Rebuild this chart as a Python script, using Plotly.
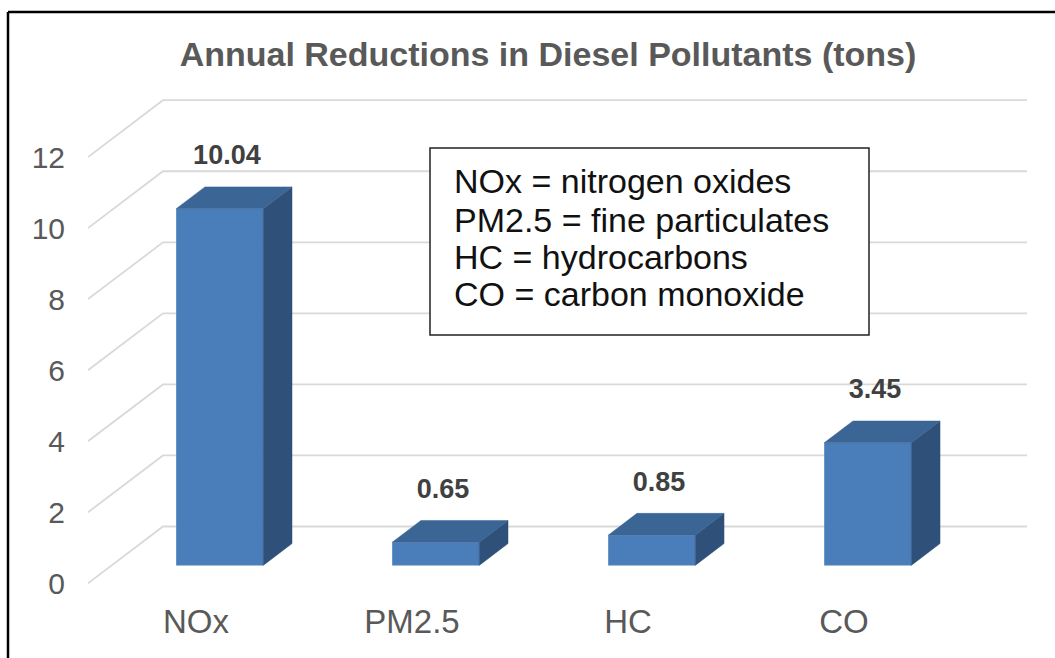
"""Excel-style 3D column chart: annual reductions in diesel pollutants."""

import plotly.graph_objects as go

# ---------------------------------------------------------------------------
# Data
# ---------------------------------------------------------------------------
CATEGORIES = ["NOx", "PM2.5", "HC", "CO"]
REDUCTIONS = [10.04, 0.65, 0.85, 3.45]
Y_TICKS = [0, 2, 4, 6, 8, 10, 12]
TITLE = "Annual Reductions in Diesel Pollutants (tons)"
LEGEND_LINES = [
    "NOx = nitrogen oxides",
    "PM2.5 = fine particulates",
    "HC = hydrocarbons",
    "CO = carbon monoxide",
]

# ---------------------------------------------------------------------------
# Styling / fake-3D geometry (in axis units)
# ---------------------------------------------------------------------------
FRONT = "#4A7EBB"
TOP = "#3A6595"
SIDE = "#2F5078"
GRID = "#d9d9d9"
TEXT_GREY = "#595959"
FONT = "Liberation Sans, Arial, sans-serif"

WALL_DX, WALL_DY = 0.347, 1.6          # floor depth projected on x / y
BAR_FRONT, BAR_BACK = 0.316, 0.70      # bar position within floor depth
BAR_WIDTH = 0.403
LABEL_DX, LABEL_DY = 0.143, 1.95

X_RANGE = [-0.5, len(CATEGORIES) - 0.5 + WALL_DX]
Y_RANGE = [-0.3, 14.0]

W, H = 1055, 658
M = dict(l=88, r=28, t=86, b=64)


def px_to_paper(px, py):
    """Convert page pixels to paper coordinates (for decoration only)."""
    pw = W - M["l"] - M["r"]
    ph = H - M["t"] - M["b"]
    return (px - M["l"]) / pw, (H - M["b"] - py) / ph


fig = go.Figure()

# front faces
front_x = [i + BAR_FRONT * WALL_DX for i in range(len(CATEGORIES))]
base = BAR_FRONT * WALL_DY
fig.add_trace(
    go.Bar(
        x=front_x,
        y=REDUCTIONS,
        base=base,
        width=BAR_WIDTH,
        marker=dict(color=FRONT, line=dict(width=0)),
        hoverinfo="skip",
    )
)

# side and top faces
ddx = (BAR_BACK - BAR_FRONT) * WALL_DX
ddy = (BAR_BACK - BAR_FRONT) * WALL_DY
side_x, side_y, top_x, top_y = [], [], [], []
for cx, v in zip(front_x, REDUCTIONS):
    xl, xr = cx - BAR_WIDTH / 2, cx + BAR_WIDTH / 2
    yt = base + v
    side_x += [xr, xr + ddx, xr + ddx, xr, xr, None]
    side_y += [base, base + ddy, yt + ddy, yt, base, None]
    top_x += [xl, xr, xr + ddx, xl + ddx, xl, None]
    top_y += [yt, yt, yt + ddy, yt + ddy, yt, None]

for xs, ys, col in [(side_x, side_y, SIDE), (top_x, top_y, TOP)]:
    fig.add_trace(
        go.Scatter(
            x=xs, y=ys, mode="lines", fill="toself", fillcolor=col,
            line=dict(width=0.5, color=col), hoverinfo="skip",
        )
    )

# data labels
fig.add_trace(
    go.Scatter(
        x=[i + LABEL_DX for i in range(len(CATEGORIES))],
        y=[v + LABEL_DY for v in REDUCTIONS],
        mode="text",
        text=[f"<b>{v:.2f}</b>" for v in REDUCTIONS],
        textposition="middle center",
        textfont=dict(family=FONT, size=27, color="#404040"),
        hoverinfo="skip",
    )
)

# perspective gridlines (side wall diagonal + back wall horizontal)
for v in Y_TICKS:
    x0 = X_RANGE[0]
    fig.add_shape(
        type="path",
        path=(
            f"M {x0},{v} L {x0 + WALL_DX},{v + WALL_DY} "
            f"L {X_RANGE[1]},{v + WALL_DY}"
        ),
        xref="x", yref="y",
        line=dict(color=GRID, width=1.8),
        layer="below",
    )

# definitions box
bx0, by0 = px_to_paper(430, 335)
bx1, by1 = px_to_paper(869, 148)
fig.add_shape(
    type="rect", xref="paper", yref="paper",
    x0=bx0, y0=by0, x1=bx1, y1=by1,
    line=dict(color="#222222", width=1.5), fillcolor="white",
)
for line, py in zip(LEGEND_LINES, [181, 220, 257, 294]):
    lx, ly = px_to_paper(452, py)
    fig.add_annotation(
        x=lx, y=ly, xref="paper", yref="paper",
        xanchor="left", yanchor="middle", showarrow=False,
        text=line, font=dict(family=FONT, size=34, color="#111111"),
    )

# outer frame (top and left edges visible in the crop)
fx, fy = px_to_paper(8, 12)
fx2, _ = px_to_paper(W + 5, 12)
_, fy2 = px_to_paper(8, H + 5)
fig.add_shape(type="line", xref="paper", yref="paper",
              x0=fx, y0=fy, x1=fx2, y1=fy, line=dict(color="black", width=2.5))
fig.add_shape(type="line", xref="paper", yref="paper",
              x0=fx, y0=fy, x1=fx, y1=fy2, line=dict(color="black", width=2.5))

fig.update_layout(
    width=W,
    height=H,
    margin=M,
    paper_bgcolor="white",
    plot_bgcolor="white",
    showlegend=False,
    title=dict(
        text=f"<b>{TITLE}</b>",
        x=548 / W, xanchor="center",
        y=1 - 54 / H, yanchor="middle",
        font=dict(family=FONT, size=34, color=TEXT_GREY),
    ),
    xaxis=dict(
        range=X_RANGE,
        tickvals=list(range(len(CATEGORIES))),
        ticktext=CATEGORIES,
        showgrid=False, zeroline=False, showline=False, ticks="",
        ticklabelstandoff=5,
        tickfont=dict(family=FONT, size=33, color=TEXT_GREY),
        fixedrange=True,
    ),
    yaxis=dict(
        range=Y_RANGE,
        tickvals=Y_TICKS,
        showgrid=False, zeroline=False, showline=False, ticks="",
        ticklabelstandoff=22,
        tickfont=dict(family=FONT, size=30, color=TEXT_GREY),
        fixedrange=True,
    ),
)

fig.write_html(
    "out.html",
    config={"displayModeBar": False},
    post_script="document.body.style.margin='0';",
)
